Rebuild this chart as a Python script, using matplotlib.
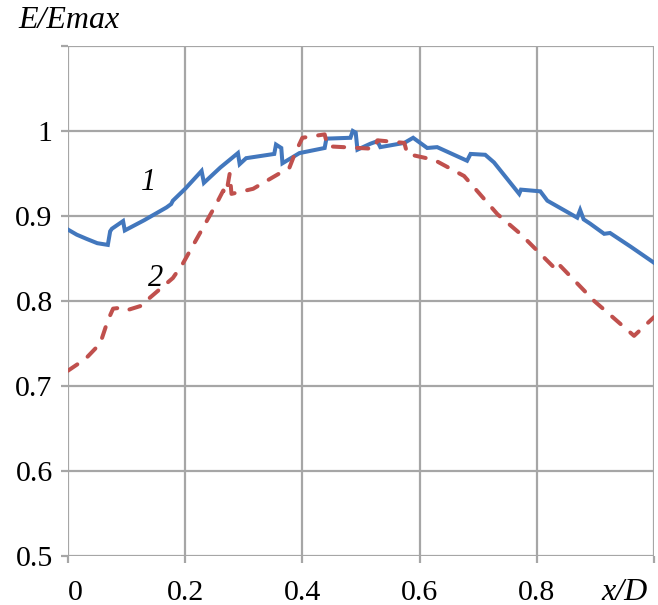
import numpy as np
import matplotlib
matplotlib.use("Agg")
import matplotlib.pyplot as plt
import matplotlib.transforms as mtransforms

plt.rcParams["font.family"] = ["Liberation Serif", "DejaVu Serif"]

# curve 1 (solid blue)
x1 = [0.0, 0.015, 0.032, 0.050, 0.068, 0.072, 0.075, 0.094, 0.097, 0.130, 0.168,
      0.176, 0.179, 0.200, 0.228, 0.232, 0.260, 0.290, 0.293, 0.304, 0.352,
      0.355, 0.364, 0.366, 0.395, 0.438, 0.441, 0.482, 0.486, 0.491, 0.494,
      0.516, 0.528, 0.533, 0.574, 0.589, 0.613, 0.630, 0.681, 0.687, 0.712,
      0.727, 0.770, 0.773, 0.806, 0.818, 0.869, 0.874, 0.880, 0.891, 0.915,
      0.925, 0.960, 1.0]
y1 = [0.884, 0.878, 0.873, 0.868, 0.866, 0.882, 0.885, 0.894, 0.883, 0.895, 0.910,
      0.914, 0.918, 0.932, 0.953, 0.939, 0.957, 0.974, 0.961, 0.968, 0.973,
      0.984, 0.980, 0.962, 0.974, 0.980, 0.991, 0.992, 1.000, 0.998, 0.978,
      0.985, 0.988, 0.981, 0.986, 0.992, 0.980, 0.981, 0.965, 0.973, 0.972,
      0.963, 0.926, 0.931, 0.929, 0.918, 0.898, 0.907, 0.896, 0.891, 0.879,
      0.880, 0.864, 0.845]

# curve 2 (dashed red)
x2 = [0.0, 0.030, 0.055, 0.068, 0.077, 0.090, 0.100, 0.128, 0.140, 0.179,
      0.196, 0.253, 0.265, 0.270, 0.276, 0.279, 0.316, 0.378, 0.387, 0.400,
      0.438, 0.443, 0.523, 0.528, 0.574, 0.579, 0.625, 0.676, 0.733, 0.772,
      0.830, 0.835, 0.898, 0.966, 1.0]
y2 = [0.718, 0.732, 0.750, 0.777, 0.791, 0.792, 0.789, 0.795, 0.804, 0.827,
      0.844, 0.914, 0.930, 0.926, 0.950, 0.926, 0.932, 0.957, 0.973, 0.992,
      0.996, 0.982, 0.979, 0.989, 0.986, 0.973, 0.966, 0.947, 0.902, 0.879,
      0.839, 0.845, 0.800, 0.759, 0.781]

xticks = [0, 0.2, 0.4, 0.6, 0.8, 1.0]
xtick_labels = ["0", "0.2", "0.4", "0.6", "0.8", ""]
yticks = [0.5, 0.6, 0.7, 0.8, 0.9, 1.0, 1.1]
ytick_labels = ["0.5", "0.6", "0.7", "0.8", "0.9", "1", ""]

fig = plt.figure(figsize=(6.58, 6.05), dpi=100)
ax = fig.add_axes([0.1033, 0.081, 0.8906, 0.843])

ax.plot(x1, y1, color="#4277BD", lw=2.9, solid_joinstyle="miter", zorder=3)
ax.plot(x2, y2, color="#C0504D", lw=2.9, dashes=(2.8, 3.2),
        dash_capstyle="round", zorder=3)

ax.set_xlim(0, 1.0)
ax.set_ylim(0.5, 1.1)
ax.set_xticks(xticks)
ax.set_xticklabels(xtick_labels)
ax.set_yticks(yticks)
ax.set_yticklabels(ytick_labels)
ax.grid(True, color="#a6a6a6", lw=1.6)
ax.set_axisbelow(True)
for s in ax.spines.values():
    s.set_visible(False)
ax.tick_params(axis="both", direction="out", length=5, width=1.6, color="#a6a6a6",
               labelsize=21.5)
ax.tick_params(axis="x", pad=12)
ax.tick_params(axis="y", pad=6)

# the "0" label sits a little to the right of its tick
first = ax.get_xticklabels()[0]
first.set_transform(first.get_transform() +
                    mtransforms.ScaledTranslation(7 / 100, 0, fig.dpi_scale_trans))

ax.text(0.138, 0.939, "1", fontsize=22, style="italic", ha="center", va="center")
ax.text(0.150, 0.826, "2", fontsize=22, style="italic", ha="center", va="center")

fig.text(18 / 658, 1 - 21 / 605, "E/Emax", fontsize=23, style="italic",
         ha="left", va="center")
fig.text(625 / 658, 1 - 592 / 605, "x/D", fontsize=23, style="italic",
         ha="center", va="center")

fig.savefig("out.png", dpi=100)
